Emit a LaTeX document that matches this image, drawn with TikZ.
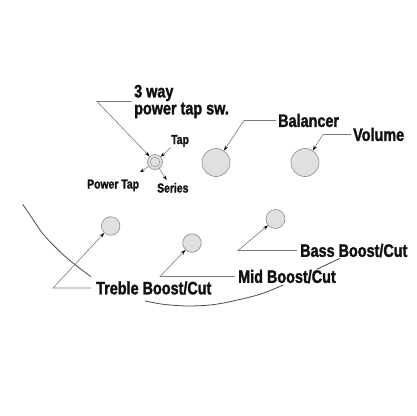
\documentclass[tikz,border=0pt]{standalone}
\usepackage{fontspec}
\newfontfamily\labfont{Liberation Sans}[FakeStretch=0.8, BoldFeatures={FakeBold=1.6}]
\usetikzlibrary{arrows.meta}
\definecolor{leadc}{HTML}{7A7A7A}
\definecolor{arcc}{HTML}{4A4A4A}
\definecolor{knobfill}{HTML}{E0E0E0}
\definecolor{knobline}{HTML}{8C8C8C}
\definecolor{txt}{HTML}{101010}
\begin{document}
\begin{tikzpicture}[x=1pt,y=-1pt,
  lead/.style={draw=leadc, line width=0.6pt},
  arr/.style={lead, -{Stealth[length=5pt,width=3.4pt,color=black]}},
  sarr/.style={lead, -{Stealth[length=4.5pt,width=3.2pt,color=black]}},
  arcline/.style={draw=arcc, line width=0.8pt},
  big/.style={font=\labfont\bfseries\fontsize{18}{17}\selectfont, text=txt, inner sep=0pt, anchor=west},
  small/.style={font=\labfont\bfseries\fontsize{13}{13}\selectfont, text=txt, inner sep=0pt, anchor=base west},
  knob/.style={circle, draw=knobline, fill=knobfill, line width=0.6pt, inner sep=0pt, minimum size=#1}]
\useasboundingbox (0,0) rectangle (416,416);
% body outline
\draw[arcline] plot[smooth] coordinates {(22.7,204.3) (30,215) (43.3,234.3) (60,251.7) (73.3,263.3) (91,276.7)};
\draw[arcline] plot[smooth] coordinates {(145,301) (163.3,304.3) (186.7,306) (210,305) (230,301.7) (260,294.3) (283.3,285)};
\draw[arcline] plot[smooth] coordinates {(316.7,269.3) (328,264) (340,258.3)};
% knobs
\node[knob=15pt] (sw) at (155,162) {};
\draw[knobline, line width=0.4pt] (sw.center) circle[radius=4.8pt];
\node[knob=28pt] (bal) at (216,162.5) {};
\node[knob=28pt] (vol) at (305,162.5) {};
\node[knob=18.5pt] (tre) at (110.7,226) {};
\node[knob=18.5pt] (mid) at (192,243) {};
\node[knob=19pt] (bas) at (275.5,219) {};
% labels
\node[big, align=left] (l3) at (134,101.5) {3 way\\power tap sw.};
\node[big] (lbal) at (278,120.5) {Balancer};
\node[big] (lvol) at (353,134.5) {Volume};
\node[big] (ltre) at (96,288) {Treble Boost/Cut};
\node[big] (lmid) at (238,276.5) {Mid Boost/Cut};
\node[big] (lbas) at (300,250.5) {Bass Boost/Cut};
\node[small] (ltap) at (171,144) {Tap};
\node[small] (lpt) at (87,188.5) {Power Tap};
\node[small] (lser) at (157,192.5) {Series};
% bends
\coordinate (b3) at (97,101.5);
\coordinate (bbal) at (244,120.5);
\coordinate (bvol) at (323,134.5);
\coordinate (btre) at (53,288);
\coordinate (bmid) at (160,276.5);
\coordinate (bbas) at (238,250.5);
\coordinate (ctap) at (170.7,147.7);
\coordinate (cpt) at (140,172.3);
\coordinate (cser) at (166.7,180);
% leaders
\draw[arr] ([xshift=-2.5pt]l3.west) -- (b3) -- (sw);
\draw[arr] ([xshift=-2pt]lbal.west) -- (bbal) -- (bal);
\draw[arr] ([xshift=-2pt]lvol.west) -- (bvol) -- (vol);
\draw[arr] ([xshift=-5pt]ltre.west) -- (btre) -- (tre);
\draw[arr] ([xshift=-3.5pt]lmid.west) -- (bmid) -- (mid);
\draw[arr] ([xshift=-3pt]lbas.west) -- (bbas) -- (bas);
\draw[sarr] (ctap) -- (sw);
\draw[sarr] (sw) -- (cpt);
\draw[sarr] (sw) -- (cser);
\end{tikzpicture}
\end{document}
